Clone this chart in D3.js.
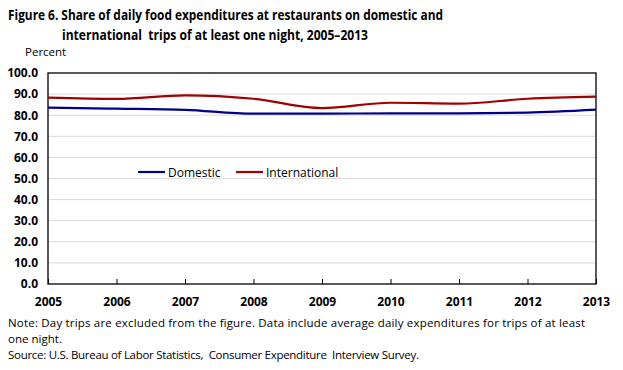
<!DOCTYPE html>
<html><head><meta charset="utf-8">
<script src="https://cdn.jsdelivr.net/npm/d3@7"></script>
<style>body{margin:0;background:#fff;}svg{display:block;} text{white-space:pre;}</style>
</head><body>
<svg id="c" width="623" height="370"></svg>
<script>
const years = [2005,2006,2007,2008,2009,2010,2011,2012,2013];
const domestic = [83.6,83.1,82.5,80.7,80.7,80.9,80.9,81.2,82.6];
const international = [88.3,87.7,89.4,87.8,83.4,85.9,85.5,87.8,88.8];
const yTicks = [0,10,20,30,40,50,60,70,80,90,100];
const seriesNames = ["Domestic","International"];
const colors = ["#00008b","#a00000"];

const svg = d3.select("#c");
const font = "'Open Sans', 'Noto Sans', sans-serif";
const m = {l:48, r:596, t:73, b:284};
const x = d3.scalePoint().domain(years).range([m.l, m.r]);
const y = d3.scaleLinear().domain([0,100]).range([m.b, m.t]);

// title
const title = svg.append("text").attr("font-family", font).attr("font-weight","bold").attr("font-size",13.5).attr("fill","#000");
title.append("tspan").attr("x",8).attr("y",20).attr("textLength",435).attr("lengthAdjust","spacingAndGlyphs")
  .text("Figure 6. Share of daily food expenditures at restaurants on domestic and");
title.append("tspan").attr("x",62).attr("y",40).attr("textLength",306).attr("lengthAdjust","spacingAndGlyphs")
  .text("international  trips of at least one night, 2005\u20132013");

svg.append("text").attr("x",25).attr("y",56).attr("font-family",font).attr("font-size",11.5).text("Percent");

// gridlines
svg.append("g").selectAll("line").data(yTicks.filter(d=>d>0&&d<100)).join("line")
  .attr("x1",m.l).attr("x2",m.r).attr("y1",d=>y(d)).attr("y2",d=>y(d))
  .attr("stroke","#d9d9d9").attr("stroke-width",1);

// y axis labels
const yAxis = d3.axisLeft(y).tickValues(yTicks).tickFormat(d3.format(".1f")).tickSize(0).tickPadding(10);
const gy = svg.append("g").attr("transform",`translate(${m.l},0)`).call(yAxis);
gy.select(".domain").remove();
gy.selectAll("text").attr("font-family",font).attr("font-weight","bold").attr("font-size",12).attr("fill","#000");

// x axis
const xAxis = d3.axisBottom(x).tickSize(-5).tickPadding(13);
const gx = svg.append("g").attr("transform",`translate(0,${m.b})`).call(xAxis);
gx.select(".domain").remove();
gx.selectAll("line").attr("stroke","#000");
gx.selectAll("text").attr("font-family",font).attr("font-weight","bold").attr("font-size",12).attr("fill","#000");

// frame
svg.append("rect").attr("x",m.l).attr("y",m.t).attr("width",m.r-m.l).attr("height",m.b-m.t)
  .attr("fill","none").attr("stroke","#000").attr("stroke-width",1.3);

// lines
const line = d3.line().x((d,i)=>x(years[i])).y(d=>y(d)).curve(d3.curveMonotoneX);
[domestic, international].forEach((s,i)=>{
  svg.append("path").attr("d",line(s)).attr("fill","none").attr("stroke",colors[i]).attr("stroke-width",2.2);
});

// legend
const leg = [{x:138},{x:236}];
seriesNames.forEach((n,i)=>{
  svg.append("line").attr("x1",leg[i].x).attr("x2",leg[i].x+27).attr("y1",172).attr("y2",172).attr("stroke",colors[i]).attr("stroke-width",2.2);
  svg.append("text").attr("x",leg[i].x+30).attr("y",176.5).attr("font-family",font).attr("font-size",12).text(n);
});

// notes
const notes = ["Note: Day trips are excluded from the figure. Data include average daily expenditures for trips of at least",
  "one night.",
  "Source: U.S. Bureau of Labor Statistics,  Consumer Expenditure  Interview Survey."];
const noteLen = [577, 54, 411];
notes.forEach((t,i)=>{
  svg.append("text").attr("x",8).attr("y",327+i*16).attr("font-family",font).attr("font-size",11.5)
    .attr("textLength",noteLen[i]).attr("lengthAdjust","spacing").text(t);
});
</script>
</body></html>
